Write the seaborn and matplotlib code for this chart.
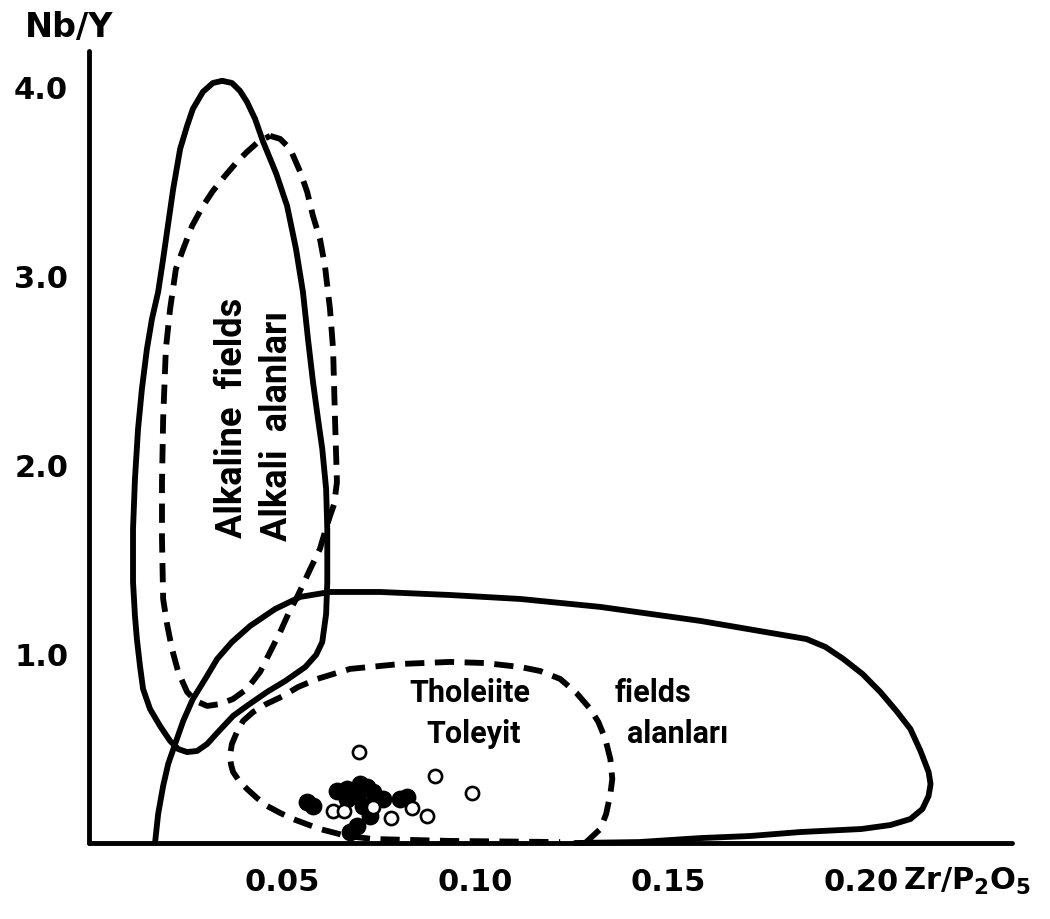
import matplotlib
matplotlib.use("Agg")
import matplotlib.pyplot as plt
import seaborn as sns

# ---------------- data ----------------
x_ticks = [0.05, 0.10, 0.15, 0.20]
x_tick_labels = ["0.05", "0.10", "0.15", "0.20"]
y_ticks = [1.0, 2.0, 3.0, 4.0]
y_tick_labels = ["1.0", "2.0", "3.0", "4.0"]

# Alkaline field, solid outline (closed)
alk_solid_x = [0.0345, 0.0370, 0.0391, 0.0409, 0.0430, 0.0451, 0.0485, 0.0513, 0.0536, 0.0554,
               0.0567, 0.0580, 0.0593, 0.0604, 0.0614, 0.0617, 0.0617, 0.0614, 0.0604, 0.0588,
               0.0560, 0.0508, 0.0461, 0.0412, 0.0373, 0.0334, 0.0306, 0.0280, 0.0254, 0.0231,
               0.0210, 0.0184, 0.0158, 0.0140, 0.0132, 0.0124, 0.0119, 0.0114, 0.0114, 0.0119,
               0.0127, 0.0137, 0.0150, 0.0163, 0.0179, 0.0192, 0.0202, 0.0218, 0.0236, 0.0254,
               0.0269, 0.0295, 0.0321, 0.0345]
alk_solid_y = [4.032, 4.021, 3.979, 3.921, 3.831, 3.709, 3.540, 3.370, 3.143, 2.915,
               2.667, 2.439, 2.243, 2.085, 1.873, 1.661, 1.381, 1.212, 1.063, 0.995,
               0.931, 0.857, 0.799, 0.730, 0.672, 0.587, 0.524, 0.487, 0.481, 0.497,
               0.540, 0.619, 0.709, 0.815, 0.937, 1.079, 1.201, 1.381, 1.661, 1.926,
               2.190, 2.402, 2.614, 2.772, 2.915, 3.090, 3.233, 3.460, 3.672, 3.794,
               3.884, 3.974, 4.021, 4.032]

# Alkaline field, dashed outline (closed)
alk_dash_x = [0.0469, 0.0495, 0.0521, 0.0547, 0.0565, 0.0580, 0.0598, 0.0611, 0.0624, 0.0632,
              0.0637, 0.0642, 0.0635, 0.0624, 0.0611, 0.0598, 0.0573, 0.0539, 0.0516, 0.0495,
              0.0469, 0.0443, 0.0409, 0.0373, 0.0339, 0.0306, 0.0277, 0.0254, 0.0231, 0.0215,
              0.0202, 0.0192, 0.0189, 0.0189, 0.0192, 0.0199, 0.0210, 0.0225, 0.0244, 0.0267,
              0.0295, 0.0321, 0.0352, 0.0383, 0.0409, 0.0438, 0.0469]
alk_dash_y = [3.741, 3.725, 3.672, 3.550, 3.444, 3.317, 3.196, 3.053, 2.825, 2.614,
              2.243, 1.910, 1.794, 1.730, 1.646, 1.556, 1.450, 1.302, 1.212, 1.116,
              1.011, 0.905, 0.815, 0.762, 0.735, 0.725, 0.751, 0.799, 0.905, 1.026,
              1.159, 1.291, 1.608, 1.910, 2.243, 2.614, 2.825, 3.037, 3.143, 3.265,
              3.370, 3.450, 3.529, 3.603, 3.656, 3.709, 3.741]

# Tholeiite field, solid outline (open, both ends on the x axis)
tho_solid_x = [0.0171, 0.0179, 0.0192, 0.0205, 0.0223, 0.0244, 0.0269, 0.0301, 0.0332, 0.0370,
               0.0417, 0.0482, 0.0547, 0.0624, 0.0754, 0.0935, 0.1117, 0.1324, 0.1583, 0.1858,
               0.1907, 0.1953, 0.2003, 0.2049, 0.2091, 0.2127, 0.2153, 0.2174, 0.2179, 0.2174,
               0.2158, 0.2127, 0.2075, 0.2000, 0.1842, 0.1712, 0.1583, 0.1425, 0.1259]
tho_solid_y = [0.000, 0.153, 0.302, 0.418, 0.524, 0.646, 0.762, 0.868, 0.974, 1.063,
               1.148, 1.238, 1.302, 1.328, 1.328, 1.312, 1.291, 1.249, 1.175, 1.079,
               1.037, 0.974, 0.894, 0.799, 0.698, 0.603, 0.487, 0.376, 0.312, 0.249,
               0.180, 0.127, 0.095, 0.074, 0.058, 0.037, 0.026, 0.005, 0.000]

# Tholeiite field, dashed outline
tho_dash_x = [0.1285, 0.1324, 0.1339, 0.1350, 0.1355, 0.1350, 0.1337, 0.1319, 0.1298, 0.1262,
              0.1220, 0.1168, 0.1117, 0.1026, 0.0935, 0.0806, 0.0676, 0.0591, 0.0541, 0.0503,
              0.0459, 0.0425, 0.0399, 0.0383, 0.0370, 0.0365, 0.0368, 0.0373, 0.0389, 0.0409,
              0.0435, 0.0461, 0.0495, 0.0528, 0.0562, 0.0598, 0.0668, 0.0736, 0.0935, 0.1220]
tho_dash_y = [0.000, 0.074, 0.153, 0.259, 0.339, 0.444, 0.550, 0.640, 0.709, 0.794,
              0.868, 0.910, 0.931, 0.952, 0.958, 0.947, 0.921, 0.868, 0.825, 0.778,
              0.735, 0.693, 0.646, 0.587, 0.524, 0.460, 0.413, 0.376, 0.328, 0.286,
              0.238, 0.196, 0.159, 0.127, 0.101, 0.074, 0.037, 0.021, 0.011, 0.005]

# samples: filled circles
filled_x = [0.0565, 0.0580, 0.0642, 0.0668, 0.0702, 0.0720, 0.0694, 0.0736, 0.0762, 0.0806,
            0.0824, 0.0710, 0.0728, 0.0694, 0.0676, 0.0746, 0.0668]
filled_y = [0.217, 0.196, 0.275, 0.286, 0.312, 0.296, 0.249, 0.270, 0.233, 0.233,
            0.243, 0.196, 0.143, 0.090, 0.058, 0.233, 0.233]

# samples: open circles
open_x = [0.0699, 0.0896, 0.0992, 0.0632, 0.0661, 0.0736, 0.0782, 0.0837, 0.0876]
open_y = [0.481, 0.354, 0.265, 0.169, 0.169, 0.190, 0.132, 0.185, 0.143]

# ---------------- style ----------------
sns.set_theme(style="white")
plt.rcParams["font.family"] = ["Roboto", "DejaVu Sans"]
plt.rcParams["font.weight"] = "bold"
plt.rcParams["text.color"] = "black"
plt.rcParams["xtick.color"] = "black"
plt.rcParams["ytick.color"] = "black"
plt.rcParams["mathtext.fontset"] = "dejavusans"
plt.rcParams["mathtext.default"] = "bf"

AXFONT = ["DejaVu Sans"]

W, H = 1050, 920
fig = plt.figure(figsize=(W / 100, H / 100), dpi=100)
fig.patch.set_facecolor("white")
ax = fig.add_axes([89 / W, 1 - 844 / H, (1012 - 89) / W, (844 - 52) / H])
ax.set_facecolor("white")

LW = 4.2
line_kw = dict(color="black", lw=LW, sort=False, estimator=None, ax=ax,
               legend=False, clip_on=False)
dash = (0, (3.3, 1.8))

sns.lineplot(x=alk_solid_x, y=alk_solid_y, solid_joinstyle="round", solid_capstyle="round", **line_kw)
sns.lineplot(x=alk_dash_x, y=alk_dash_y, linestyle=dash, dash_capstyle="butt", **line_kw)
sns.lineplot(x=tho_solid_x, y=tho_solid_y, solid_joinstyle="round", solid_capstyle="round", **line_kw)
sns.lineplot(x=tho_dash_x, y=tho_dash_y, linestyle=dash, dash_capstyle="butt", **line_kw)

sns.scatterplot(x=filled_x, y=filled_y, s=140, color="black", edgecolor="black",
                linewidth=1, ax=ax, zorder=5, legend=False, clip_on=False)
sns.scatterplot(x=open_x, y=open_y, s=90, facecolor="white", edgecolor="black",
                linewidth=1.9, ax=ax, zorder=6, legend=False, clip_on=False)

ax.set_xlim(0, 0.239)
ax.set_ylim(0, 4.19)
ax.set_xticks(x_ticks)
ax.set_xticklabels(x_tick_labels)
ax.set_yticks(y_ticks)
ax.set_yticklabels(y_tick_labels)
ax.set_xlabel("")
ax.set_ylabel("")

for s in ["top", "right"]:
    ax.spines[s].set_visible(False)
for s in ["left", "bottom"]:
    ax.spines[s].set_linewidth(3.5)
    ax.spines[s].set_color("black")
    ax.spines[s].set_capstyle("round")

ax.tick_params(axis="both", direction="out", length=10, width=3.5, colors="black",
               labelcolor="black", labelsize=22, pad=5)
ax.tick_params(axis="x", pad=7)
for lab in ax.get_xticklabels() + ax.get_yticklabels():
    lab.set_fontweight("bold")
    lab.set_family(AXFONT)
    lab.set_color("black")

# axis titles
fig.text(25 / W, 1 - 37 / H, "Nb/Y", fontsize=24, fontweight="bold", family=AXFONT,
         color="black", ha="left", va="baseline")
fig.text(903 / W, 1 - 890 / H, "Zr/P$_2$O$_5$", fontsize=22, fontweight="bold",
         family=AXFONT, color="black", ha="left", va="baseline")

# field labels
txt = dict(fontsize=26, fontweight="bold", color="black", ha="center", va="center")
ax.text(0.0370, 2.254, "Alkaline  fields", rotation=90, **txt)
ax.text(0.0487, 2.212, "Alkali  alanları", rotation=90, **txt)
txt2 = dict(fontsize=22, fontweight="bold", color="black", ha="center", va="center")
ax.text(0.0987, 0.799, "Tholeiite", **txt2)
ax.text(0.1460, 0.799, "fields", **txt2)
ax.text(0.0997, 0.582, "Toleyit", **txt2)
ax.text(0.1525, 0.582, "alanları", **txt2)

fig.savefig("out.png", dpi=100, facecolor="white")
